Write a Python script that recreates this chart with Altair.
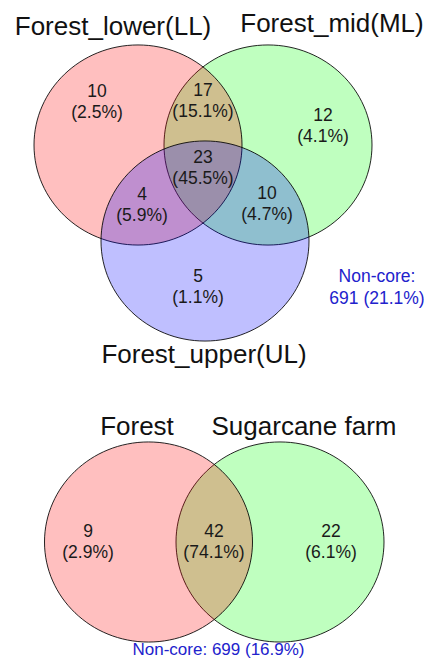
import altair as alt
import pandas as pd

# ---------------- data ----------------
top_sets = ["Forest_lower(LL)", "Forest_mid(ML)", "Forest_upper(UL)"]
top_regions = ["LL only", "LL & ML", "ML only", "LL & UL", "LL & ML & UL", "ML & UL", "UL only"]
top_counts = [10, 17, 12, 4, 23, 10, 5]
top_pcts = ["2.5", "15.1", "4.1", "5.9", "45.5", "4.7", "1.1"]
top_noncore_count = 691
top_noncore_pct = "21.1"

bottom_sets = ["Forest", "Sugarcane farm"]
bottom_regions = ["Forest only", "Forest & Sugarcane", "Sugarcane only"]
bottom_counts = [9, 42, 22]
bottom_pcts = ["2.9", "74.1", "6.1"]
bottom_noncore_count = 699
bottom_noncore_pct = "16.9"

# ---------------- layout & style (pixel positions on the page) ----------------
set_colors = ["#FF0000", "#00FF00", "#0000FF"]
draw_order = [1, 0, 2]          # green first, then red, then blue
circle_pos = {
    "top": [(138, 145), (268, 145), (205, 241)],
    "bottom": [(148.5, 542), (280, 542)],
}
set_label_pos = {
    "top": [(113, 34.5), (332, 32), (204, 363)],
    "bottom": [(137, 435), (304, 435)],
}
# position of the first text line of each region label
region_label_pos = {
    "top": [(97, 92), (203, 91), (323, 116), (142, 195), (203, 158), (267, 194), (198, 277)],
    "bottom": [(88, 532), (214, 532), (331, 532)],
}
noncore_pos = {"top": (377, 277), "bottom": (218.5, 650)}

RX = 104
ELLIPSE = "M-1,0A1,0.962 0 1,0 1,0A1,0.962 0 1,0 -1,0Z"
FONT = "Liberation Sans"

# ---------------- tables ----------------
circ_rows = []
for key, names in (("top", top_sets), ("bottom", bottom_sets)):
    for i in draw_order:
        if i >= len(names):
            continue
        cx, cy = circle_pos[key][i]
        circ_rows.append({"set": names[i], "x": cx, "y": cy, "fill": set_colors[i]})
circles = pd.DataFrame(circ_rows)

set_rows = []
for key, names in (("top", top_sets), ("bottom", bottom_sets)):
    for i, name in enumerate(names):
        px, py = set_label_pos[key][i]
        set_rows.append({"text": name, "x": px, "y": py})
set_labels = pd.DataFrame(set_rows)

reg_rows = []
for key, regs, counts, pcts in (("top", top_regions, top_counts, top_pcts),
                                 ("bottom", bottom_regions, bottom_counts, bottom_pcts)):
    for i, r in enumerate(regs):
        px, py = region_label_pos[key][i]
        reg_rows.append({"region": r, "text": f"{counts[i]}\n({pcts[i]}%)", "x": px, "y": py})
region_labels = pd.DataFrame(reg_rows)

nc = pd.DataFrame([
    {"text": f"Non-core:\n{top_noncore_count} ({top_noncore_pct}%)",
     "x": noncore_pos["top"][0], "y": noncore_pos["top"][1], "fs": 17.5},
    {"text": f"Non-core: {bottom_noncore_count} ({bottom_noncore_pct}%)",
     "x": noncore_pos["bottom"][0], "y": noncore_pos["bottom"][1], "fs": 17},
])

# ---------------- scales: page-pixel coordinates ----------------
xs = alt.Scale(domain=[8, 424], nice=False, zero=False)
ys = alt.Scale(domain=[8, 658], nice=False, zero=False, reverse=True)
X = lambda: alt.X("x:Q", scale=xs, axis=None)
Y = lambda: alt.Y("y:Q", scale=ys, axis=None)

circ_layer = alt.Chart(circles).mark_point(
    filled=True, fillOpacity=0.25, stroke="black", strokeWidth=1, strokeOpacity=0.85,
    shape=ELLIPSE, size=(2 * RX) ** 2,
).encode(x=X(), y=Y(), fill=alt.Fill("fill:N", scale=None))

set_layer = alt.Chart(set_labels).mark_text(
    font=FONT, fontSize=26, color="#111111", align="center", baseline="alphabetic",
).encode(x=X(), y=Y(), text="text:N")

region_layer = alt.Chart(region_labels).mark_text(
    font=FONT, fontSize=17.5, color="#1a1a1a", align="center", baseline="middle",
    lineBreak="\n", lineHeight=20.5,
).encode(x=X(), y=Y(), text="text:N")

nc_layer = alt.Chart(nc).mark_text(
    font=FONT, color="#2222CC", align="center", baseline="middle",
    lineBreak="\n", lineHeight=21.5,
).encode(x=X(), y=Y(), text="text:N", size=alt.Size("fs:Q", scale=None))

chart = alt.layer(circ_layer, set_layer, region_layer, nc_layer).properties(
    width=416, height=650, padding=0, autosize=alt.AutoSizeParams(type="none"),
).configure_view(stroke=None)

chart.save("out.html", embed_options={"renderer": "svg", "actions": False})
